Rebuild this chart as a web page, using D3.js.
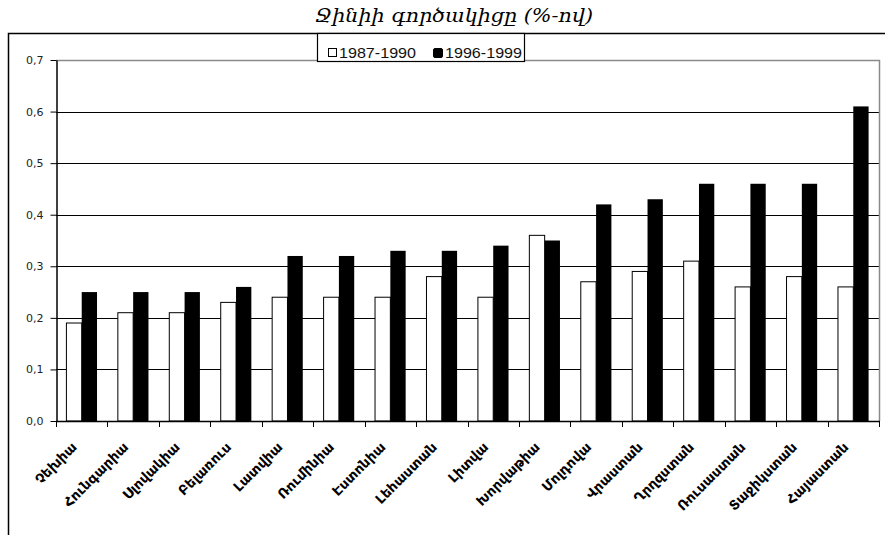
<!DOCTYPE html>
<html><head><meta charset="utf-8">
<script src="https://cdn.jsdelivr.net/npm/d3@7"></script>
<style>body{margin:0;background:#fff}svg{display:block}</style>
</head><body>
<svg id="c" width="885" height="535"></svg>
<script>
const categories = ["Չեխիա","Հունգարիա","Սլովակիա","Բելառուս","Լատվիա","Ռումինիա","Էստոնիա","Լեհաստան","Լիտվա","Խորվաթիա","Մոլդովա","Վրաստան","Ղրղզստան","Ռուսաստան","Տաջիկստան","Հայաստան"];
const series = ["1987-1990","1996-1999"];
const v1987 = [0.19,0.21,0.21,0.23,0.24,0.24,0.24,0.28,0.24,0.36,0.27,0.29,0.31,0.26,0.28,0.26];
const v1996 = [0.25,0.25,0.25,0.26,0.32,0.32,0.33,0.33,0.34,0.35,0.42,0.43,0.46,0.46,0.46,0.61];
const yTicks = [0,0.1,0.2,0.3,0.4,0.5,0.6,0.7];
const title = "Ջինիի գործակիցը (%-ով)";

const svg = d3.select("#c");
const L = 56, R = 879, T = 60, B = 421;

// outer chart border
svg.append("rect").attr("x",8.5).attr("y",33.5).attr("width",1000).attr("height",1000)
  .attr("fill","none").attr("stroke","#000").attr("stroke-width",1.5);

const x = d3.scaleBand().domain(categories).range([L,R]).padding(0);
const xs = d3.scaleBand().domain(series).range([0,x.bandwidth()]).paddingInner(0).paddingOuter(0.68);
const y = d3.scaleLinear().domain([0,0.7]).range([B,T]);

// gridlines
svg.append("g").selectAll("line").data(yTicks.filter(d=>d>0 && d<0.7)).join("line")
  .attr("x1",L).attr("x2",R).attr("y1",d=>Math.round(y(d))+0.5).attr("y2",d=>Math.round(y(d))+0.5)
  .attr("stroke","#000").attr("stroke-width",1);
// plot area border top/right (gray)
svg.append("path").attr("d",`M${L},${T+0.5}H${R+0.5}V${B}`).attr("fill","none").attr("stroke","#8a8a8a").attr("stroke-width",1.5);

// bars
const g = svg.append("g");
categories.forEach((c,i)=>{
  g.append("rect").attr("x",x(c)+xs(series[0])).attr("y",y(v1987[i])).attr("width",xs.bandwidth()).attr("height",y(0)-y(v1987[i]))
    .attr("fill","#fff").attr("stroke","#000").attr("stroke-width",1);
  g.append("rect").attr("x",x(c)+xs(series[1])).attr("y",y(v1996[i])).attr("width",xs.bandwidth()).attr("height",y(0)-y(v1996[i]))
    .attr("fill","#000");
});

// y axis
const yAxis = d3.axisLeft(y).tickValues(yTicks).tickSize(6).tickSizeOuter(0)
  .tickFormat(d=>d3.format(".1f")(d).replace(".",","));
const ya = svg.append("g").attr("transform",`translate(${L+0.5},0)`).call(yAxis);
ya.select(".domain").attr("stroke","#000").attr("stroke-width",1.5);
ya.selectAll(".tick line").attr("stroke","#000");
ya.selectAll(".tick text").attr("x",-13).attr("font-family","DejaVu Sans, Verdana, sans-serif").attr("font-size",11).attr("fill","#222");

// x axis baseline with boundary ticks
svg.append("line").attr("x1",L).attr("x2",R+1).attr("y1",B+0.5).attr("y2",B+0.5).attr("stroke","#000").attr("stroke-width",1.5);
const bounds = categories.map(c=>x(c)).concat([R]);
svg.append("g").selectAll("line").data(bounds).join("line")
  .attr("x1",d=>Math.round(d)+0.5).attr("x2",d=>Math.round(d)+0.5).attr("y1",B).attr("y2",B+6).attr("stroke","#000");

// x labels
svg.append("g").selectAll("text").data(categories).join("text")
  .attr("transform",d=>`translate(${x(d)+x.bandwidth()/2-4},${B+27}) rotate(-45)`)
  .attr("text-anchor","end").attr("font-family","DejaVu Sans, sans-serif").attr("font-weight","bold")
  .attr("font-size",13.5).attr("fill","#000").text(d=>d);

// title
svg.append("text").attr("x",454).attr("y",22).attr("text-anchor","middle")
  .attr("font-family","DejaVu Serif, serif").attr("font-style","italic").attr("font-size",19)
  .attr("textLength",278).attr("lengthAdjust","spacingAndGlyphs").text(title);

// legend
const lg = svg.append("g");
lg.append("rect").attr("x",317.5).attr("y",33.5).attr("width",207).attr("height",28).attr("fill","#fff").attr("stroke","#000").attr("stroke-width",1.2);
lg.append("rect").attr("x",328.5).attr("y",48.5).attr("width",8).attr("height",8).attr("fill","#fff").attr("stroke","#000");
lg.append("rect").attr("x",433.5).attr("y",48.5).attr("width",9).attr("height",9).attr("rx",1.5).attr("fill","#000").attr("stroke","#000");
lg.selectAll("text.l").data(series).join("text").attr("class","l")
  .attr("x",(d,i)=>i===0?339:445).attr("y",58).attr("font-family","Liberation Sans, Arial, sans-serif")
  .attr("font-size",15).attr("fill","#111").attr("textLength",77).attr("lengthAdjust","spacingAndGlyphs").text(d=>d);
</script>
</body></html>
